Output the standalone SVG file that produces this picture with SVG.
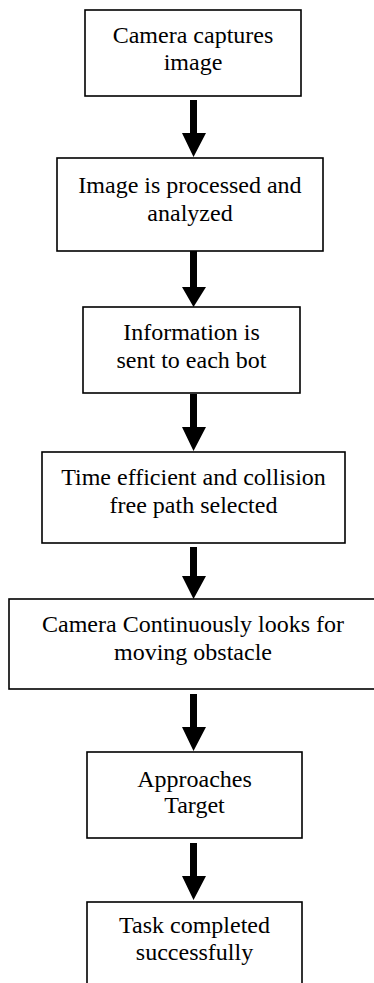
<svg xmlns="http://www.w3.org/2000/svg" width="374" height="983" viewBox="0 0 374 983" font-family="'Liberation Serif', 'Times New Roman', serif">
<style>
.box{fill:#fff;stroke:#000;stroke-width:1.6}
.t{font-family:'Liberation Serif','Times New Roman',serif;font-size:24px;fill:#000;text-anchor:middle}
.arrow{fill:#000;stroke:none}
</style>
<rect width="374" height="983" fill="#fff"/>
<g id="n1"><rect class="box" x="85" y="10" width="216" height="86"/><text class="t" x="193" y="43">Camera captures</text><text class="t" x="193" y="70">image</text></g>
<g id="n2"><rect class="box" x="57" y="158" width="266" height="93"/><text class="t" x="190" y="193">Image is processed and</text><text class="t" x="190" y="221">analyzed</text></g>
<g id="n3"><rect class="box" x="83" y="307" width="217" height="86"/><text class="t" x="191.5" y="340">Information is</text><text class="t" x="191.5" y="368">sent to each bot</text></g>
<g id="n4"><rect class="box" x="42" y="452" width="303" height="91"/><text class="t" x="193.5" y="485">Time efficient and collision</text><text class="t" x="193.5" y="513">free path selected</text></g>
<g id="n5"><rect class="box" x="9" y="599" width="367" height="90"/><text class="t" x="193" y="632">Camera Continuously looks for</text><text class="t" x="193" y="660">moving obstacle</text></g>
<g id="n6"><rect class="box" x="87" y="752" width="215" height="86"/><text class="t" x="194.5" y="787">Approaches</text><text class="t" x="194.5" y="813">Target</text></g>
<g id="n7"><rect class="box" x="87" y="902" width="215" height="90"/><text class="t" x="194.5" y="933">Task completed</text><text class="t" x="194.5" y="960">successfully</text></g>
<g id="connectors">
<path class="arrow" d="M190 100H197V133H206L193.5 157L182 133H190Z"/>
<path class="arrow" d="M190 251H197V287H206L193.5 307L182 287H190Z"/>
<path class="arrow" d="M190 394H197V427H206L193.5 451L182 427H190Z"/>
<path class="arrow" d="M190 547H197V576H206L193.5 599L182 576H190Z"/>
<path class="arrow" d="M190 694H197V727H206L193.5 751L182 727H190Z"/>
<path class="arrow" d="M190 843H197V876H206L193.5 900L182 876H190Z"/>
</g>
</svg>
